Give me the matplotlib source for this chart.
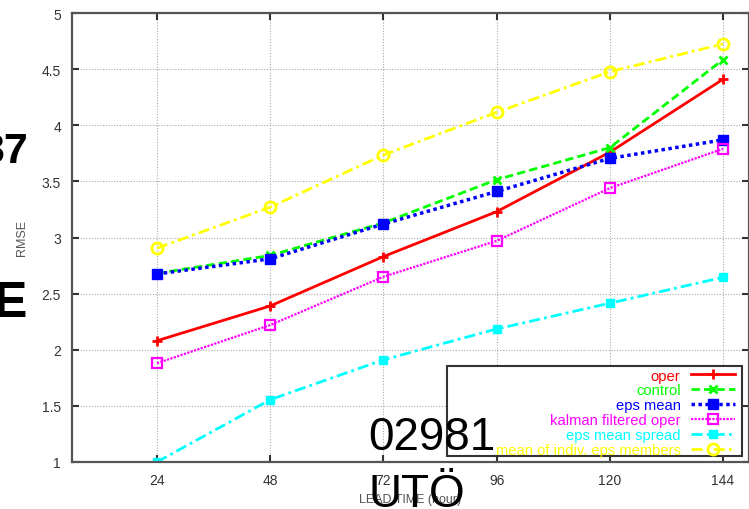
import numpy as np
import matplotlib
matplotlib.use('Agg')
from matplotlib import pyplot as plt
from matplotlib.patches import Rectangle

plt.rcParams['font.family'] = ['Liberation Sans', 'DejaVu Sans']

# datos
lead_time = [24, 48, 72, 96, 120, 144]
oper = [2.08, 2.39, 2.83, 3.23, 3.76, 4.41]
control = [2.68, 2.84, 3.13, 3.515, 3.80, 4.585]
eps_mean = [2.675, 2.81, 3.12, 3.41, 3.705, 3.87]
kalman_oper = [1.88, 2.22, 2.65, 2.97, 3.44, 3.79]
eps_spread = [1.0, 1.555, 1.91, 2.185, 2.415, 2.645]
mean_indiv = [2.905, 3.27, 3.735, 4.115, 4.477, 4.724]

fig = plt.figure(figsize=(7.49, 5.10), dpi=100)
ax = fig.add_axes([72/749, 1 - 463/510, 1 - 72/749, (463 - 14)/510])

ax.plot(lead_time, oper, color='#ff0000', linestyle='-', linewidth=2,
        marker='+', markersize=7, markeredgewidth=2, label='oper')
ax.plot(lead_time, control, color='#00ff00', linestyle=(0, (3, 1.5)), linewidth=2,
        marker='x', markersize=6, markeredgewidth=2, label='control')
ax.plot(lead_time, eps_mean, color='#0000ff', linestyle=(0, (1, 1)), linewidth=2.5,
        marker='s', markersize=7, label='eps mean')
ax.plot(lead_time, kalman_oper, color='#ff00ff', linestyle=(0, (1, 0.6)), linewidth=1.6,
        marker='s', markersize=7, markerfacecolor='none', markeredgewidth=1.6,
        label='kalman filtered oper')
ax.plot(lead_time, eps_spread, color='#00ffff', linestyle=(0, (4, 1.5, 1, 1.5)), linewidth=2,
        marker='s', markersize=6, label='eps mean spread')
ax.plot(lead_time, mean_indiv, color='#ffff00', linestyle=(0, (4, 1.5, 1, 1.5)), linewidth=2,
        marker='o', markersize=8, markerfacecolor='none', markeredgewidth=2,
        label='mean of indiv. eps members')

ax.set_xlim(6, 149.5)
ax.set_ylim(1, 5)
ax.set_xticks(lead_time)
ax.set_yticks([1, 1.5, 2, 2.5, 3, 3.5, 4, 4.5, 5])
ax.set_yticklabels(['1', '1.5', '2', '2.5', '3', '3.5', '4', '4.5', '5'])
ax.grid(True, color='#aaaaaa', linestyle=(0, (1, 1.5)), linewidth=0.8)
ax.tick_params(direction='in', length=5, width=1.5, color='#333333',
               top=True, right=True, labelsize=10, labelcolor='#333333', pad=8)
for s in ax.spines.values():
    s.set_color('#555555')
    s.set_linewidth(1.6)

ax.set_xlabel('LEAD TIME (hour)', fontsize=9, color='#555555', labelpad=4)
ax.set_ylabel('RMSE', fontsize=9, color='#555555', labelpad=10)

# caja de la leyenda estilo gnuplot (mas ancha que el texto)
caja = Rectangle((447/749, 1 - 457/510), (742 - 447)/749, (457 - 367)/510,
                 transform=fig.transFigure, facecolor='white', edgecolor='#333333',
                 linewidth=1.5, zorder=4.5, clip_on=False)
ax.add_patch(caja)

leg = ax.legend(loc='lower right', bbox_to_anchor=(735/749, 1 - 458/510),
                bbox_transform=fig.transFigure, markerfirst=False,
                labelcolor='linecolor', fontsize=10.6, frameon=False,
                handlelength=3.0, labelspacing=0.06, borderpad=0,
                handletextpad=0.7, borderaxespad=0)
leg.set_zorder(5)

# textos superpuestos de la diapositiva
fig.text(28/749, 1 - 163/510, '37', fontsize=31, fontweight='bold', ha='right', va='baseline', zorder=6)
fig.text(27/749, 1 - 317/510, 'E', fontsize=36, fontweight='bold', ha='right', va='baseline', zorder=6)
fig.text(368/749, 1 - 450/510, '02981', fontsize=33, ha='left', va='baseline', zorder=6)
fig.text(368/749, 1 - 507/510, 'UTÖ', fontsize=33, ha='left', va='baseline', zorder=6)

fig.savefig('out.png', dpi=100)
